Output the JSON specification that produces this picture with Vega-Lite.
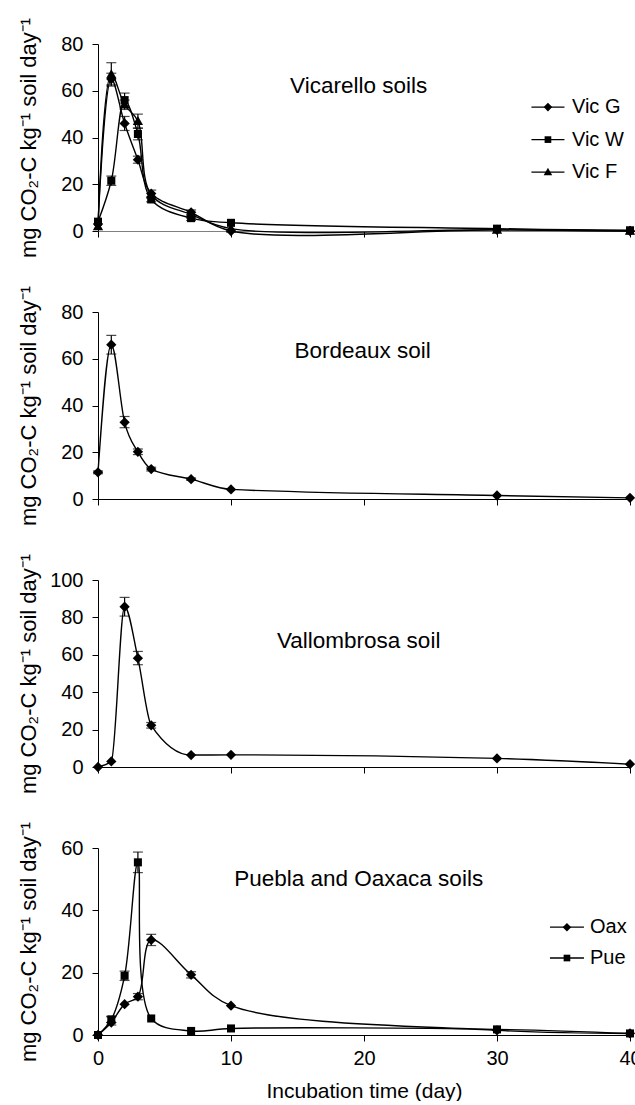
{
  "$schema": "https://vega.github.io/schema/vega-lite/v6.json",
  "padding": {"left": 16, "top": 17, "right": 0, "bottom": 0},
  "background": "white",
  "config": {
    "view": {"stroke": null},
    "font": "Liberation Sans",
    "axis": {"grid": false, "labelFlush": false, "labelFont": "Liberation Sans", "labelFontSize": 20, "labelColor": "black", "domainColor": "black", "tickColor": "black", "tickSize": 6, "labelPadding": 9, "titleFont": "Liberation Sans", "titleFontSize": 22, "titleFontWeight": "normal", "titleColor": "black", "domainWidth": 1, "tickWidth": 1},
    "text": {"font": "Liberation Sans", "fontSize": 22.5, "color": "black"}
  },
  "datasets": {
    "vic": [
      {"day": 0, "series": "Vic G", "v": 3}, {"day": 1, "series": "Vic G", "v": 65}, {"day": 2, "series": "Vic G", "v": 46}, {"day": 3, "series": "Vic G", "v": 30.5}, {"day": 4, "series": "Vic G", "v": 16}, {"day": 7, "series": "Vic G", "v": 8}, {"day": 10, "series": "Vic G", "v": 0}, {"day": 30, "series": "Vic G", "v": 0.5}, {"day": 40, "series": "Vic G", "v": 0},
      {"day": 0, "series": "Vic W", "v": 4}, {"day": 1, "series": "Vic W", "v": 21.5}, {"day": 2, "series": "Vic W", "v": 56}, {"day": 3, "series": "Vic W", "v": 41.5}, {"day": 4, "series": "Vic W", "v": 13.5}, {"day": 7, "series": "Vic W", "v": 5.5}, {"day": 10, "series": "Vic W", "v": 3.5}, {"day": 30, "series": "Vic W", "v": 1}, {"day": 40, "series": "Vic W", "v": 0.3},
      {"day": 0, "series": "Vic F", "v": 2}, {"day": 1, "series": "Vic F", "v": 67}, {"day": 2, "series": "Vic F", "v": 54}, {"day": 3, "series": "Vic F", "v": 47}, {"day": 4, "series": "Vic F", "v": 15.5}, {"day": 7, "series": "Vic F", "v": 7}, {"day": 10, "series": "Vic F", "v": 1}, {"day": 30, "series": "Vic F", "v": 0.5}, {"day": 40, "series": "Vic F", "v": 0}
    ],
    "vic_err": [
      {"day": 1, "v": 62, "v2": 72}, {"day": 1, "v": 62.5, "v2": 67.5}, {"day": 1, "v": 19.5, "v2": 23.5},
      {"day": 2, "v": 53, "v2": 59}, {"day": 2, "v": 43, "v2": 49}, {"day": 2, "v": 52, "v2": 56},
      {"day": 3, "v": 44, "v2": 50}, {"day": 3, "v": 39, "v2": 44}, {"day": 3, "v": 29, "v2": 32},
      {"day": 4, "v": 14.5, "v2": 17.5}, {"day": 4, "v": 12.5, "v2": 14.5},
      {"day": 7, "v": 7, "v2": 9}, {"day": 7, "v": 4.5, "v2": 6.5}
    ],
    "vic_lab": [{"day": 19.6, "v": 62, "label": "Vicarello soils"}],
    "vic_leg": [
      {"day": 33.83, "v": 53.0, "series": "Vic G"},
      {"day": 33.83, "v": 39.1, "series": "Vic W"},
      {"day": 33.83, "v": 25.2, "series": "Vic F"}
    ],
    "bor": [
      {"day": 0, "v": 11.4}, {"day": 1, "v": 66}, {"day": 2, "v": 32.8}, {"day": 3, "v": 20.2}, {"day": 4, "v": 12.8}, {"day": 7, "v": 8.5}, {"day": 10, "v": 4.1}, {"day": 30, "v": 1.5}, {"day": 40, "v": 0.5}
    ],
    "bor_err": [
      {"day": 0, "v": 10.8, "v2": 12}, {"day": 1, "v": 62, "v2": 70}, {"day": 2, "v": 30.5, "v2": 35.3}, {"day": 3, "v": 19, "v2": 21.4}, {"day": 4, "v": 12, "v2": 13.6}, {"day": 7, "v": 8, "v2": 9}
    ],
    "bor_lab": [{"day": 19.9, "v": 63.5, "label": "Bordeaux soil"}],
    "val": [
      {"day": 0, "v": 0}, {"day": 1, "v": 3}, {"day": 2, "v": 85.7}, {"day": 3, "v": 58.2}, {"day": 4, "v": 22.3}, {"day": 7, "v": 6.4}, {"day": 10, "v": 6.5}, {"day": 30, "v": 4.6}, {"day": 40, "v": 1.5}
    ],
    "val_err": [
      {"day": 2, "v": 80.7, "v2": 90.7}, {"day": 3, "v": 54.7, "v2": 61.8}, {"day": 4, "v": 20.8, "v2": 23.8}
    ],
    "val_lab": [{"day": 19.6, "v": 67.4, "label": "Vallombrosa soil"}],
    "pue": [
      {"day": 0, "series": "Oax", "v": 0}, {"day": 1, "series": "Oax", "v": 4}, {"day": 2, "series": "Oax", "v": 9.9}, {"day": 3, "series": "Oax", "v": 12.3}, {"day": 4, "series": "Oax", "v": 30.5}, {"day": 7, "series": "Oax", "v": 19.3}, {"day": 10, "series": "Oax", "v": 9.4}, {"day": 30, "series": "Oax", "v": 1.5}, {"day": 40, "series": "Oax", "v": 0.5},
      {"day": 0, "series": "Pue", "v": 0}, {"day": 1, "series": "Pue", "v": 5}, {"day": 2, "series": "Pue", "v": 19}, {"day": 3, "series": "Pue", "v": 55.4}, {"day": 4, "series": "Pue", "v": 5.3}, {"day": 7, "series": "Pue", "v": 1.3}, {"day": 10, "series": "Pue", "v": 2.1}, {"day": 30, "series": "Pue", "v": 1.8}, {"day": 40, "series": "Pue", "v": 0.5}
    ],
    "pue_err": [
      {"day": 1, "v": 3.2, "v2": 5.8}, {"day": 1, "v": 4, "v2": 6},
      {"day": 2, "v": 17.5, "v2": 20.5}, {"day": 3, "v": 52.1, "v2": 58.7}, {"day": 3, "v": 11.3, "v2": 13.3},
      {"day": 4, "v": 28.7, "v2": 32.3}, {"day": 7, "v": 18.3, "v2": 20.3}
    ],
    "pue_lab": [{"day": 19.6, "v": 50, "label": "Puebla and Oaxaca soils"}],
    "pue_leg": [
      {"day": 35.26, "v": 34.6, "series": "Oax"},
      {"day": 35.26, "v": 24.7, "series": "Pue"}
    ]
  },
  "bounds": "flush",
  "spacing": 81,
  "resolve": {"scale": {"x": "independent", "y": "independent", "shape": "independent"}},
  "vconcat": [
    {
      "width": 532, "height": 187,
      "encoding": {
        "x": {"field": "day", "type": "quantitative", "scale": {"domain": [0, 40], "nice": false}, "axis": {"values": [0, 10, 20, 30, 40], "labels": false, "title": null, "domainColor": "#808080"}},
        "y": {"field": "v", "type": "quantitative", "scale": {"domain": [0, 80], "nice": false}, "axis": {"values": [0, 20, 40, 60, 80], "title": "mg CO₂-C kg⁻¹ soil day⁻¹", "titleX": -58, "titleBaseline": "bottom"}}
      },
      "layer": [
        {"data": {"name": "vic"}, "mark": {"type": "line", "interpolate": "catmull-rom", "color": "black", "strokeWidth": 1.4}, "encoding": {"detail": {"field": "series"}}},
        {"data": {"name": "vic_err"}, "mark": {"type": "errorbar", "ticks": {"size": 10}, "color": "black", "thickness": 1.2}, "encoding": {"y2": {"field": "v2"}}},
        {"data": {"name": "vic"}, "mark": {"type": "point", "filled": true, "color": "black", "opacity": 1, "size": 80},
         "encoding": {"shape": {"field": "series", "type": "nominal", "legend": null,
           "scale": {"domain": ["Vic G", "Vic W", "Vic F"], "range": ["M-1.15,0L0,-1.15L1.15,0L0,1.15Z", "M-0.9,-0.9H0.9V0.9H-0.9Z", "M0,-1.15L1.15,0.85H-1.15Z"]}}}},
        {"data": {"name": "vic_lab"}, "mark": {"type": "text", "align": "center", "baseline": "middle"}, "encoding": {"text": {"field": "label"}}},
        {"data": {"name": "vic_leg"}, "mark": {"type": "tick", "orient": "horizontal", "size": 33, "thickness": 1.3, "color": "black", "opacity": 1}},
        {"data": {"name": "vic_leg"}, "mark": {"type": "point", "filled": true, "color": "black", "opacity": 1, "size": 55},
         "encoding": {"shape": {"field": "series", "type": "nominal", "legend": null}}},
        {"data": {"name": "vic_leg"}, "mark": {"type": "text", "align": "left", "baseline": "middle", "dx": 24, "fontSize": 20}, "encoding": {"text": {"field": "series"}}}
      ]
    },
    {
      "width": 532, "height": 187,
      "encoding": {
        "x": {"field": "day", "type": "quantitative", "scale": {"domain": [0, 40], "nice": false}, "axis": {"values": [0, 10, 20, 30, 40], "labels": false, "title": null}},
        "y": {"field": "v", "type": "quantitative", "scale": {"domain": [0, 80], "nice": false}, "axis": {"values": [0, 20, 40, 60, 80], "title": "mg CO₂-C kg⁻¹ soil day⁻¹", "titleX": -58, "titleBaseline": "bottom"}}
      },
      "layer": [
        {"data": {"name": "bor"}, "mark": {"type": "line", "interpolate": "monotone", "color": "black", "strokeWidth": 1.4}},
        {"data": {"name": "bor_err"}, "mark": {"type": "errorbar", "ticks": {"size": 10}, "color": "black", "thickness": 1.2}, "encoding": {"y2": {"field": "v2"}}},
        {"data": {"name": "bor"}, "mark": {"type": "point", "filled": true, "color": "black", "opacity": 1, "size": 80, "shape": "M-1.15,0L0,-1.15L1.15,0L0,1.15Z"}},
        {"data": {"name": "bor_lab"}, "mark": {"type": "text", "align": "center", "baseline": "middle"}, "encoding": {"text": {"field": "label"}}}
      ]
    },
    {
      "width": 532, "height": 187,
      "encoding": {
        "x": {"field": "day", "type": "quantitative", "scale": {"domain": [0, 40], "nice": false}, "axis": {"values": [0, 10, 20, 30, 40], "labels": false, "title": null}},
        "y": {"field": "v", "type": "quantitative", "scale": {"domain": [0, 100], "nice": false}, "axis": {"values": [0, 20, 40, 60, 80, 100], "title": "mg CO₂-C kg⁻¹ soil day⁻¹", "titleX": -58, "titleBaseline": "bottom"}}
      },
      "layer": [
        {"data": {"name": "val"}, "mark": {"type": "line", "interpolate": "monotone", "color": "black", "strokeWidth": 1.4}},
        {"data": {"name": "val_err"}, "mark": {"type": "errorbar", "ticks": {"size": 10}, "color": "black", "thickness": 1.2}, "encoding": {"y2": {"field": "v2"}}},
        {"data": {"name": "val"}, "mark": {"type": "point", "filled": true, "color": "black", "opacity": 1, "size": 80, "shape": "M-1.15,0L0,-1.15L1.15,0L0,1.15Z"}},
        {"data": {"name": "val_lab"}, "mark": {"type": "text", "align": "center", "baseline": "middle"}, "encoding": {"text": {"field": "label"}}}
      ]
    },
    {
      "width": 532, "height": 187,
      "encoding": {
        "x": {"field": "day", "type": "quantitative", "scale": {"domain": [0, 40], "nice": false}, "axis": {"values": [0, 10, 20, 30, 40], "title": "Incubation time (day)", "titleFontSize": 21, "labelPadding": 7, "titlePadding": 12}},
        "y": {"field": "v", "type": "quantitative", "scale": {"domain": [0, 60], "nice": false}, "axis": {"values": [0, 20, 40, 60], "title": "mg CO₂-C kg⁻¹ soil day⁻¹", "titleX": -58, "titleBaseline": "bottom"}}
      },
      "layer": [
        {"data": {"name": "pue"}, "mark": {"type": "line", "interpolate": "catmull-rom", "color": "black", "strokeWidth": 1.4}, "encoding": {"detail": {"field": "series"}}},
        {"data": {"name": "pue_err"}, "mark": {"type": "errorbar", "ticks": {"size": 10}, "color": "black", "thickness": 1.2}, "encoding": {"y2": {"field": "v2"}}},
        {"data": {"name": "pue"}, "mark": {"type": "point", "filled": true, "color": "black", "opacity": 1, "size": 80},
         "encoding": {"shape": {"field": "series", "type": "nominal", "legend": null,
           "scale": {"domain": ["Oax", "Pue"], "range": ["M-1.15,0L0,-1.15L1.15,0L0,1.15Z", "M-0.9,-0.9H0.9V0.9H-0.9Z"]}}}},
        {"data": {"name": "pue_lab"}, "mark": {"type": "text", "align": "center", "baseline": "middle"}, "encoding": {"text": {"field": "label"}}},
        {"data": {"name": "pue_leg"}, "mark": {"type": "tick", "orient": "horizontal", "size": 34, "thickness": 1.3, "color": "black", "opacity": 1}},
        {"data": {"name": "pue_leg"}, "mark": {"type": "point", "filled": true, "color": "black", "opacity": 1, "size": 55},
         "encoding": {"shape": {"field": "series", "type": "nominal", "legend": null}}},
        {"data": {"name": "pue_leg"}, "mark": {"type": "text", "align": "left", "baseline": "middle", "dx": 23, "fontSize": 20}, "encoding": {"text": {"field": "series"}}}
      ]
    }
  ]
}
